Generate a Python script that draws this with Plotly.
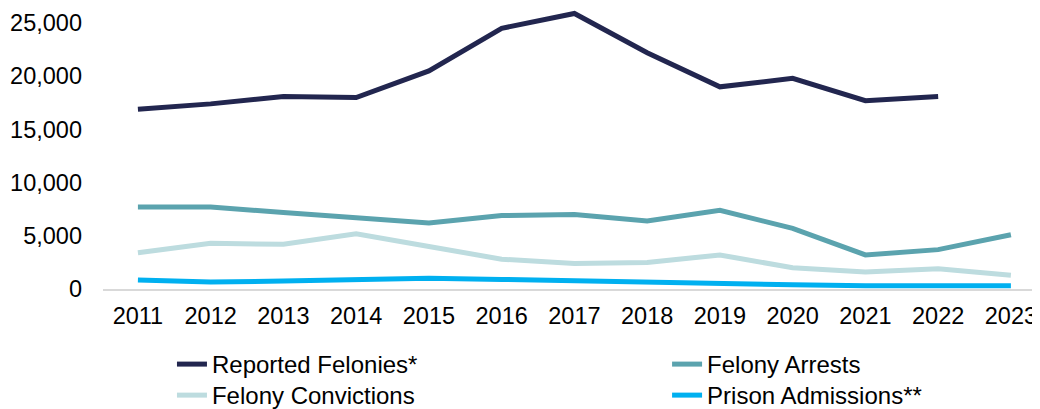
import plotly.graph_objects as go

years = list(range(2011, 2024))

# values
reported_felonies = [16900, 17400, 18100, 18000, 20500, 24500, 25900, 22200, 19000, 19800, 17700, 18100, None]
felony_arrests = [7700, 7700, 7200, 6700, 6200, 6900, 7000, 6400, 7400, 5700, 3200, 3700, 5100]
felony_convictions = [3400, 4300, 4200, 5200, 4000, 2800, 2400, 2500, 3200, 2000, 1600, 1900, 1300]
prison_admissions = [850, 650, 750, 900, 1000, 900, 750, 700, 450, 400, 300, 300, 300]

# name, values, colour, legend slot (one legend per cell of the 2x2 key)
series = [
    ("Reported Felonies*", reported_felonies, "#22264f", "legend"),
    ("Felony Arrests", felony_arrests, "#5ba3ae", "legend2"),
    ("Felony Convictions", felony_convictions, "#bddcdf", "legend3"),
    ("Prison Admissions**", prison_admissions, "#00b0f0", "legend4"),
]

FONT = "Liberation Sans, Arial, sans-serif"
FS = 23.5

fig = go.Figure()
for name, vals, color, leg in series:
    fig.add_trace(
        go.Scatter(
            x=years,
            y=vals,
            name=name,
            mode="lines",
            line=dict(color=color, width=5),
            legend=leg,
        )
    )

legend_style = dict(
    orientation="v",
    xanchor="left",
    yanchor="top",
    itemwidth=30,
    tracegroupgap=0,
    font=dict(family=FONT, size=24, color="#000000"),
    bgcolor="rgba(0,0,0,0)",
)
col_x = [0.0736, 0.602]
row_y = [-0.1886, -0.299]

# the page body adds an 8px offset, so the figure is 8px smaller than the window
fig.update_layout(
    width=1032,
    height=401,
    margin=dict(l=95, r=0, t=0, b=120, autoexpand=False),
    paper_bgcolor="white",
    plot_bgcolor="white",
    font=dict(family=FONT, size=FS, color="#000000"),
    showlegend=True,
    legend=dict(x=col_x[0], y=row_y[0], **legend_style),
    legend2=dict(x=col_x[1], y=row_y[0], **legend_style),
    legend3=dict(x=col_x[0], y=row_y[1], **legend_style),
    legend4=dict(x=col_x[1], y=row_y[1], **legend_style),
)

fig.update_xaxes(
    range=[2010.52, 2023.40],
    tickvals=years,
    ticktext=[str(y) for y in years],
    tickangle=0,
    showgrid=False,
    zeroline=False,
    showline=True,
    linecolor="#d9d9d9",
    linewidth=2,
    ticks="",
    ticklabelstandoff=5,
    ticklabeloverflow="allow",
    tickfont=dict(family=FONT, size=FS, color="#000000"),
)

fig.update_yaxes(
    range=[0, 26410],
    tickvals=[0, 5000, 10000, 15000, 20000, 25000],
    ticktext=["0", "5,000", "10,000", "15,000", "20,000", "25,000"],
    showgrid=False,
    zeroline=False,
    showline=False,
    ticks="",
    ticklabelstandoff=20,
    tickfont=dict(family=FONT, size=FS, color="#000000"),
)

fig.write_html("out.html")
